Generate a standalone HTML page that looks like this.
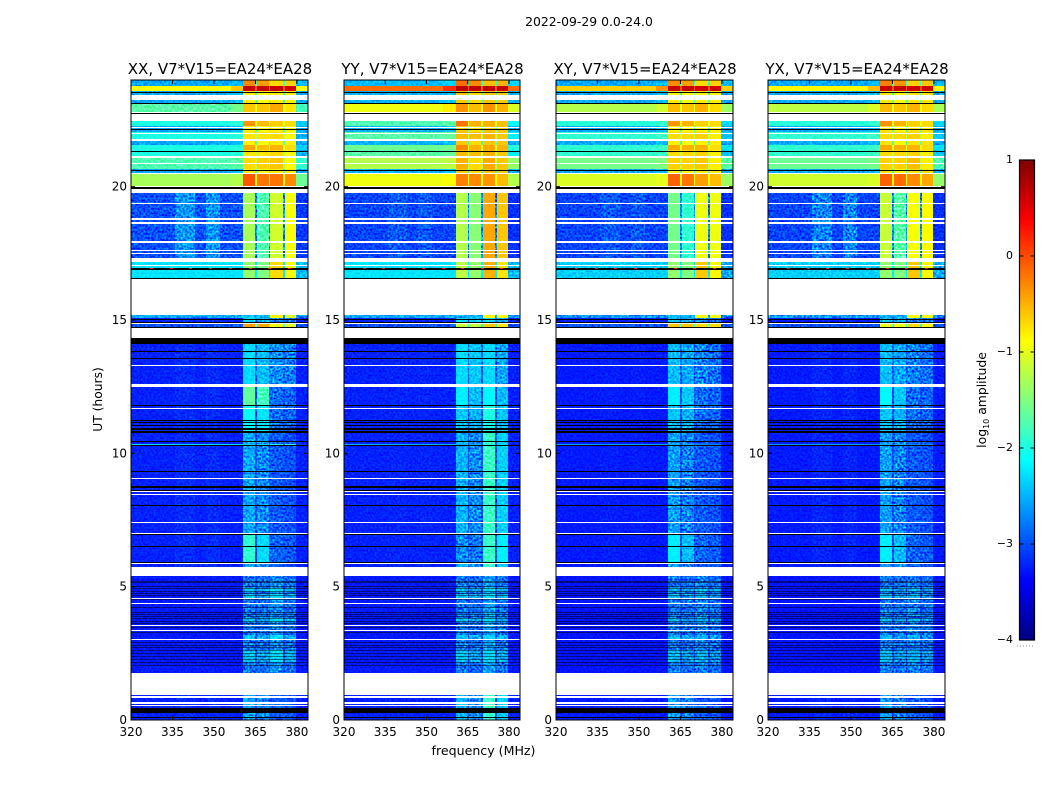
<!DOCTYPE html>
<html lang="en">
<head>
<meta charset="utf-8">
<title>2022-09-29 amplitude waterfall</title>
<style>
html,body{margin:0;padding:0;background:#fff;width:1050px;height:800px;overflow:hidden}
svg{display:block}
text{font-family:"DejaVu Sans","Liberation Sans",sans-serif;fill:#000}
</style>
</head>
<body>
<svg id="figure" xmlns="http://www.w3.org/2000/svg" width="1050" height="800" viewBox="0 0 1050 800">
  <defs>
    <filter id="speckle" x="0" y="0" width="100%" height="100%" color-interpolation-filters="sRGB">
      <feTurbulence type="fractalNoise" baseFrequency="0.48" numOctaves="1" seed="7"/>
      <feColorMatrix type="matrix" values="2.4 0 0 0 -0.7  2.4 0 0 0 -0.7  2.4 0 0 0 -0.7  0 0 0 0 1"/>
    </filter>
  </defs>
  <text x="589" y="26" font-size="12.4" text-anchor="middle">2022-09-29 0.0-24.0</text>
  <text x="0" y="0" font-size="12.3" text-anchor="middle" transform="translate(102 399.5) rotate(-90)">UT (hours)</text>
  <text x="483.5" y="755" font-size="12.6" text-anchor="middle">frequency (MHz)</text>
  <g id="panels"></g>
  <g id="colorbar"></g>
  <text font-size="12.4" text-anchor="middle" transform="translate(986 400) rotate(-90)">log<tspan font-size="8" dy="3">10</tspan><tspan dy="-3"> amplitude</tspan></text>
</svg>
<script>
// Axis tick values
const freqTicks = [320, 335, 350, 365, 380];
const utTicks = [0, 5, 10, 15, 20];
const colorTicks = [1, 0, -1, -2, -3, -4];
const colorTickLabels = ['1', '0', '\u22121', '\u22122', '\u22123', '\u22124'];
const panelNames = ['XX', 'YY', 'XY', 'YX'];

// Frequency column edges (MHz) and the band each column reads from
const columnEdges = [320, 336, 343, 347, 352, 356, 360.6, 365, 365.5, 369.8, 370.4, 374.9, 375.6, 379.8, 384];
const columnBands = ['low', 'mid', 'low', 'mid', 'low', 'taper', 's1', 'gap', 's2', 'gap', 's3', 'gap', 's4', 'edge'];

// Time blocks: UT start, UT end, spectrum profile index (W blank, K flagged black)
const W = -1, K = -2;
const blockTop = [24, 23.76, 23.57, 23.45, 23.25, 23.14, 22.81, 22.48, 22.29, 22.04, 21.71, 21.56, 21.38, 21.13, 20.66, 20.51, 20.04, 19.93, 19.76, 17.33, 17.18, 17.11, 16.97, 16.58, 15.19, 15.06, 14.89, 14.74, 14.33, 14.10, 12.6, 12.47, 11.8, 10.82, 6.98, 5.89, 5.75, 5.40, 4.95, 4.80, 4.72, 4.57, 3.83, 3.68, 3.19, 3.04, 2.63, 2.18, 1.76, 0.94, 0.90, 0.82, 0.68, 0.60, 0.56, 0.52, 0.45, 0.27];
const blockBottom = [23.76, 23.57, 23.45, 23.25, 23.14, 22.81, 22.48, 22.29, 22.04, 21.71, 21.56, 21.38, 21.13, 20.66, 20.51, 20.04, 19.93, 19.76, 17.33, 17.18, 17.11, 16.97, 16.58, 15.19, 15.06, 14.89, 14.74, 14.33, 14.10, 12.6, 12.47, 11.8, 10.82, 6.98, 5.89, 5.75, 5.40, 4.95, 4.80, 4.72, 4.57, 3.83, 3.68, 3.19, 3.04, 2.63, 2.18, 1.76, 0.94, 0.90, 0.82, 0.68, 0.60, 0.56, 0.52, 0.45, 0.27, 0];
const blockProfile = [0, 1, 2, W, 2, 3, W, 4, 2, 5, 2, 6, 5, 7, 2, 8, 10, W, 9, W, 10, 10, 10, W, 11, 13, 12, W, K, 13, W, 14, 15, 16, 17, 16, W, 18, 20, 18, 20, 18, 20, 18, 20, 18, 20, 18, W, 16, W, 16, W, 16, W, 16, K, 16];

// Single flagged integrations (UT hours)
const blackLines = [23.55, 23.15, 22.78, 22.76, 22.18, 21.32, 20.64, 19.99, 19.95, 16.95, 16.92, 16.56, 15.04, 14.94, 14.73, 13.82, 13.56, 11.80, 11.25, 11.16, 11.06, 10.95, 10.91, 10.84, 10.81, 10.46, 10.30, 9.33, 8.78, 8.74, 8.63, 8.06, 6.98, 6.53, 5.91, 0.13];
const denseLines = [5.22, 5.16, 5.03, 4.94, 4.84, 4.75, 4.68, 4.53, 4.25, 4.06, 3.98, 3.90, 3.81, 3.72, 3.63, 3.48, 3.31, 2.94, 2.81, 2.75, 2.63, 2.52, 2.40, 2.28, 2.18, 2.05];
const whiteLines = [22.24, 22.01, 21.77, 21.74, 21.15, 21.11, 20.87, 20.51, 20.03, 19.38, 18.81, 18.77, 18.66, 18.62, 17.96, 17.93, 17.64, 17.52, 17.08, 14.87, 13.33, 13.30, 11.70, 9.06, 8.57, 8.48, 7.41, 7.01, 5.87, 4.56, 4.38, 3.56, 3.38, 3.04];
const greenLineUT = [10.35];
const hotChannels = [327.2, 334.3, 341.5, 348.6, 355.9, 363, 370, 377.2];
const hotChannelUT = 16.95;

// Spectrum profile levels (log10 amplitude), one entry per profile
const gapLevels = [-1.8, 0, -1.7, -1, -1, -1.2, -1, -1.2, -0.9, -2.7, -2.2, -2.6, -1.8, -2.9, -3, -3, -3, -3, -3, -3, -3];
const edgeOffsets = [0.1, 0, 0, -0.1, -0.35, -0.5, -0.35, -0.15, -0.3, -0.1, -0.2, -0.1, 0, 0, 0, 0, 0, 0, 0, -0.8, 0];
const taperOffsets = [0.1, 0.3, 0.1, 0.15, 0.05, 0.05, 0.05, 0.05, 0.05, 0, 0, 0, 0, 0, 0, 0, 0, 0, 0, 0, 0];
const midOffsets = [0, 0, 0, 0, 0, 0, 0, 0, 0, 1, 0, 0, 0, 0.15, 0.15, 0.15, 0.15, 0.15, 0, 0, 0];

const lowXX = [-2.55, -0.9, -2.55, -1.7, -2, -2, -2, -1.75, -1.3, -3, -2.25, -2.55, -3, -3.22, -3.22, -3.22, -3.22, -3.22, -3.25, -2.3, -3.25];
const s1XX = [-0.3, 0.65, -0.8, -0.6, -0.35, -0.75, -0.45, -0.7, -0.05, -1.3, -1.4, -2.45, -0.4, -2.3, -1.65, -2.1, -2.55, -1.9, -2.8, -2.3, -2.4];
const s2XX = [-0.4, 0.65, -0.9, -0.6, -0.55, -0.75, -0.55, -0.65, -0.2, -1.75, -1.5, -2.45, -0.45, -2.45, -1.8, -2.25, -2.7, -2.3, -2.85, -2.3, -2.55];
const s3XX = [-0.7, 0.65, -0.8, -0.45, -0.65, -0.7, -0.5, -0.6, -0.2, -1.1, -0.7, -0.85, -0.95, -2.7, -2.85, -2.85, -2.95, -2.9, -2.7, -2, -2.3];
const s4XX = [-0.65, 0.6, -0.8, -0.75, -0.7, -0.85, -0.7, -0.85, -0.3, -0.9, -0.9, -1.05, -1.05, -2.75, -2.9, -2.9, -3, -2.95, -2.85, -2, -2.5];

const lowYY = [-2.45, -0.15, -2.5, -0.95, -1.75, -1.7, -1.6, -1.25, -0.95, -3.05, -2.25, -2.55, -3, -3.22, -3.22, -3.22, -3.22, -3.22, -3.25, -2.5, -3.25];
const s1YY = [-0.15, 0.7, -0.6, -0.35, -0.2, -0.55, -0.3, -0.5, -0.25, -1.25, -1.2, -2.5, -1.15, -2.3, -2.2, -2.4, -2.5, -2.7, -2.8, -2.5, -2.4];
const s2YY = [-0.3, 0.7, -0.7, -0.55, -0.5, -0.55, -0.5, -0.7, -0.3, -1.45, -1.4, -2.5, -1.2, -2.4, -2.45, -2.5, -2.7, -2.8, -2.85, -2.5, -2.55];
const s3YY = [-0.55, 0.7, -0.6, -0.35, -0.5, -0.5, -0.45, -0.45, -0.35, -0.45, -0.5, -0.85, -0.6, -2.3, -2.15, -2, -1.85, -1.85, -2.6, -2, -2.3];
const s4YY = [-0.5, 0.65, -0.6, -0.5, -0.55, -0.6, -0.5, -0.6, -0.55, -0.6, -0.75, -0.9, -0.75, -2.55, -2.45, -2.4, -2.35, -2.2, -2.8, -2.3, -2.5];

const lowXY = [-2.55, -0.65, -2.55, -1.25, -1.95, -1.9, -1.9, -1.55, -1.05, -3.05, -2.35, -2.65, -3, -3.25, -3.25, -3.25, -3.25, -3.25, -3.28, -2.6, -3.28];
const s1XY = [-0.3, 0.65, -0.8, -0.55, -0.35, -0.7, -0.45, -0.65, -0.1, -1.55, -1.4, -2.5, -0.6, -2.45, -2.2, -2.4, -2.6, -2.2, -2.8, -2.5, -2.45];
const s2XY = [-0.4, 0.65, -0.9, -0.6, -0.5, -0.7, -0.5, -0.65, -0.2, -1.9, -1.5, -2.5, -0.6, -2.55, -2.4, -2.5, -2.75, -2.45, -2.85, -2.5, -2.6];
const s3XY = [-0.7, 0.6, -0.8, -0.5, -0.65, -0.65, -0.5, -0.6, -0.4, -0.95, -0.6, -0.9, -0.7, -2.75, -2.85, -2.85, -2.95, -2.9, -2.75, -2.7, -2.5];
const s4XY = [-0.65, 0.6, -0.8, -0.7, -0.7, -0.8, -0.7, -0.8, -0.55, -0.95, -0.85, -0.95, -0.7, -2.85, -2.9, -2.9, -3, -2.95, -2.85, -2.7, -2.65];

const lowYX = [-2.55, -0.85, -2.55, -1.2, -1.95, -1.9, -1.9, -1.6, -1.1, -3.05, -2.35, -2.65, -3, -3.25, -3.25, -3.25, -3.25, -3.25, -3.28, -2.6, -3.28];
const s1YX = [-0.25, 0.65, -0.75, -0.55, -0.35, -0.7, -0.45, -0.65, -0.1, -1.15, -1.4, -2.5, -0.95, -2.45, -2.15, -2.4, -2.6, -2.2, -2.8, -2.5, -2.45];
const s2YX = [-0.35, 0.65, -0.85, -0.6, -0.5, -0.7, -0.5, -0.65, -0.15, -1.7, -1.5, -2.5, -0.95, -2.55, -2.4, -2.5, -2.75, -2.45, -2.85, -2.5, -2.6];
const s3YX = [-0.65, 0.6, -0.75, -0.5, -0.65, -0.65, -0.5, -0.55, -0.3, -0.9, -0.6, -0.9, -0.7, -2.75, -2.85, -2.85, -2.95, -2.9, -2.75, -2.7, -2.5];
const s4YX = [-0.6, 0.6, -0.75, -0.7, -0.7, -0.8, -0.7, -0.8, -0.45, -0.85, -0.85, -0.95, -0.85, -2.85, -2.9, -2.9, -3, -2.95, -2.85, -2.7, -2.65];

const panelLevels = [
  {low: lowXX, s1: s1XX, s2: s2XX, s3: s3XX, s4: s4XX, midGain: 0.35},
  {low: lowYY, s1: s1YY, s2: s2YY, s3: s3YY, s4: s4YY, midGain: 0.1},
  {low: lowXY, s1: s1XY, s2: s2XY, s3: s3XY, s4: s4XY, midGain: 0.1},
  {low: lowYX, s1: s1YX, s2: s2YX, s3: s3YX, s4: s4YX, midGain: 0.3}
];

// Layout
const panelLeft = [131, 344, 556, 768];
const panelWidth = [177, 176, 177, 177];
const plotTop = 80, plotBottom = 720;
const freqMin = 320, freqMax = 384, utMax = 24;
const barLeft = 1019.5, barRight = 1034.5, barTop = 160, barBottom = 640;
const valueMin = -4, valueMax = 1;
const smoothAbove = -1.7;

const NS = 'http://www.w3.org/2000/svg';
function mk(tag, attrs, parent) {
  const el = document.createElementNS(NS, tag);
  for (const k in attrs) el.setAttribute(k, attrs[k]);
  parent.appendChild(el);
  return el;
}
const yScale = t => plotBottom - (t / utMax) * (plotBottom - plotTop);
const barScale = v => barBottom - (v - valueMin) / (valueMax - valueMin) * (barBottom - barTop);
function jet(v) {
  const t = Math.max(0, Math.min(1, (v - valueMin) / (valueMax - valueMin)));
  const ch = c => Math.round(255 * Math.max(0, Math.min(1, c)));
  const r = Math.min(4 * t - 1.5, -4 * t + 4.5);
  const g = Math.min(4 * t - 0.5, -4 * t + 3.5);
  const b = Math.min(4 * t + 0.5, -4 * t + 2.5);
  return 'rgb(' + ch(r) + ',' + ch(g) + ',' + ch(b) + ')';
}
function levelFor(p, band, prof) {
  if (band === 'low') return p.low[prof];
  if (band === 'mid') return p.low[prof] + p.midGain * midOffsets[prof];
  if (band === 'taper') return p.low[prof] + taperOffsets[prof];
  if (band === 'gap') return gapLevels[prof];
  if (band === 'edge') return p.low[prof] + edgeOffsets[prof];
  return p[band][prof];
}

const panelsRoot = document.getElementById('panels');
panelNames.forEach((name, i) => {
  const left = panelLeft[i], width = panelWidth[i];
  const xScale = f => left + (f - freqMin) / (freqMax - freqMin) * width;
  const levels = panelLevels[i];

  const panel = mk('g', {}, panelsRoot);
  
  

  const cells = mk('g', {'shape-rendering': 'crispEdges'}, panel);
  
  

  const noiseLow = mk('rect', {x: left, y: yScale(20), width: width, height: plotBottom - yScale(20), filter: 'url(#speckle)', style: 'mix-blend-mode:overlay', opacity: 0.9}, panel);
  
  
  const noiseHigh = mk('rect', {x: left, y: plotTop, width: width, height: yScale(20) - plotTop, filter: 'url(#speckle)', style: 'mix-blend-mode:overlay', opacity: 0.6}, panel);
  
  

  const smoothCells = mk('g', {'shape-rendering': 'crispEdges'}, panel);
  
  

  blockProfile.forEach((prof, b) => {
    if (prof < 0) return;
    const y0 = Math.round(yScale(blockTop[b]));
    const y1 = Math.round(yScale(blockBottom[b]));
    columnBands.forEach((band, c) => {
      const x0 = Math.round(xScale(columnEdges[c]));
      const x1 = Math.round(xScale(columnEdges[c + 1]));
      const level = levelFor(levels, band, prof);
      const host = level > smoothAbove ? smoothCells : cells;
      const cell = mk('rect', {x: x0, y: y0, width: x1 - x0, height: y1 - y0, fill: jet(level)}, host);
      
      
    });
  });

  greenLineUT.forEach(t => {
    columnBands.forEach((band, c) => {
      const x0 = Math.round(xScale(columnEdges[c]));
      const x1 = Math.round(xScale(columnEdges[c + 1]));
      const line = mk('rect', {x: x0, y: Math.round(yScale(t)), width: x1 - x0, height: 1, fill: jet(levelFor(levels, band, 19))}, smoothCells);
      
      
    });
  });

  const flags = mk('g', {'shape-rendering': 'crispEdges'}, panel);
  
  

  blockProfile.forEach((prof, b) => {
    if (prof >= 0) return;
    const y0 = Math.round(yScale(blockTop[b]));
    const y1 = Math.round(yScale(blockBottom[b]));
    const band = mk('rect', {x: left, y: y0, width: width, height: y1 - y0, fill: prof === W ? '#fff' : '#000'}, flags);
    
    
  });
  blackLines.forEach(t => {
    const line = mk('rect', {x: left, y: Math.round(yScale(t)), width: width, height: 1, fill: '#000'}, flags);
    
    
  });
  denseLines.forEach(t => {
    const line = mk('rect', {x: left, y: Math.round(yScale(t)), width: width, height: 1, fill: '#000', 'fill-opacity': 0.5}, flags);
    
    
  });
  whiteLines.forEach(t => {
    const line = mk('rect', {x: left, y: Math.round(yScale(t)), width: width, height: 1, fill: '#fff'}, flags);
    
    
  });
  hotChannels.forEach(f => {
    const dot = mk('rect', {x: Math.round(xScale(f)) - 1, y: Math.round(yScale(hotChannelUT)), width: 3, height: 1, fill: '#e2200a'}, flags);
    
    
  });

  const frame = mk('rect', {x: left, y: plotTop, width: width, height: plotBottom - plotTop, fill: 'none', stroke: '#000', 'stroke-width': 1}, panel);
  
  

  freqTicks.forEach(f => {
    const x = xScale(f);
    const bottomTick = mk('line', {x1: x, x2: x, y1: plotBottom, y2: plotBottom - 4, stroke: '#000', 'stroke-width': 1}, panel);
    
    
    const topTick = mk('line', {x1: x, x2: x, y1: plotTop, y2: plotTop + 4, stroke: '#000', 'stroke-width': 1}, panel);
    
    
    const label = mk('text', {x: x, y: 736, 'font-size': 12, 'text-anchor': 'middle'}, panel);
    label.textContent = String(f);
    
    
  });
  utTicks.forEach(t => {
    const y = yScale(t);
    const leftTick = mk('line', {x1: left, x2: left + 4, y1: y, y2: y, stroke: '#000', 'stroke-width': 1}, panel);
    
    
    const rightTick = mk('line', {x1: left + width, x2: left + width - 4, y1: y, y2: y, stroke: '#000', 'stroke-width': 1}, panel);
    
    
    const label = mk('text', {x: left - 4, y: y + 4, 'font-size': 12, 'text-anchor': 'end'}, panel);
    label.textContent = String(t);
    
    
  });

  const title = mk('text', {x: left + width / 2 + 0.5, y: 74, 'font-size': 15, 'text-anchor': 'middle'}, panel);
  title.textContent = name + ', V7*V15=EA24*EA28';
  
  
});

// Colorbar
const barRoot = document.getElementById('colorbar');
const barSteps = 240;
for (let s = 0; s < barSteps; s++) {
  const v0 = valueMin + (valueMax - valueMin) * s / barSteps;
  const v1 = valueMin + (valueMax - valueMin) * (s + 1) / barSteps;
  const strip = mk('rect', {x: barLeft, y: barScale(v1), width: barRight - barLeft, height: barScale(v0) - barScale(v1) + 0.5, fill: jet((v0 + v1) / 2), 'shape-rendering': 'crispEdges'}, barRoot);
  
  
}
const barFrame = mk('rect', {x: barLeft, y: barTop, width: barRight - barLeft, height: barBottom - barTop, fill: 'none', stroke: '#000', 'stroke-width': 1.2}, barRoot);


colorTicks.forEach((v, i) => {
  const y = barScale(v);
  const tickL = mk('line', {x1: barLeft, x2: barLeft + 4, y1: y, y2: y, stroke: '#000', 'stroke-width': 1}, barRoot);
  
  
  const tickR = mk('line', {x1: barRight, x2: barRight - 4, y1: y, y2: y, stroke: '#000', 'stroke-width': 1}, barRoot);
  
  
  const label = mk('text', {x: 1013, y: y + 3, 'font-size': 11, 'text-anchor': 'end'}, barRoot);
  label.textContent = colorTickLabels[i];
  
  
});
const dots = mk('line', {x1: 1017, x2: 1035, y1: 646, y2: 646, stroke: '#888', 'stroke-width': 1, 'stroke-dasharray': '1 2'}, barRoot);


</script>
</body>
</html>
